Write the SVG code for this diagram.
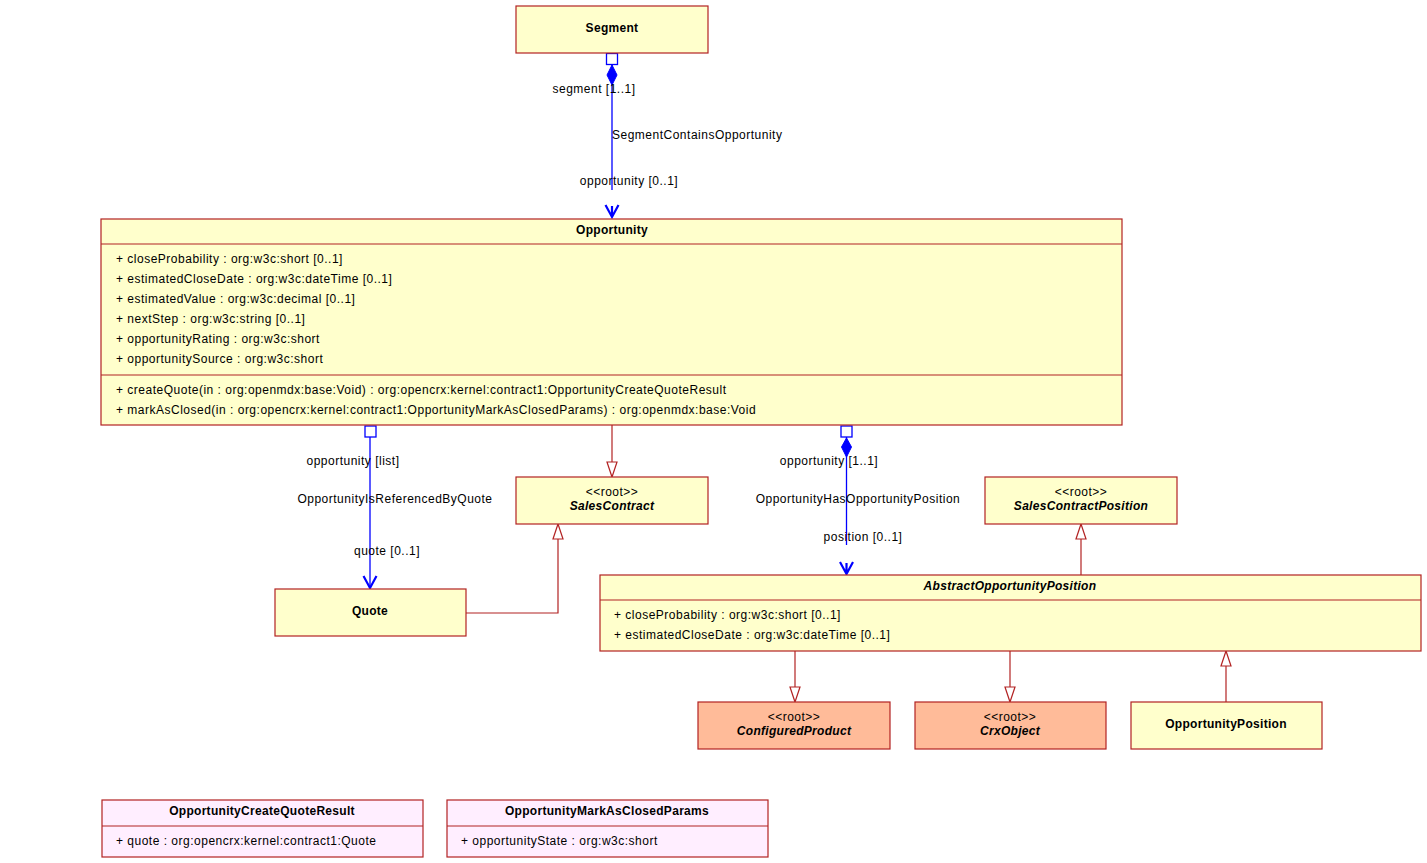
<svg xmlns="http://www.w3.org/2000/svg" width="1427" height="863" viewBox="0 0 1427 863">
<style>
text{font-family:"Liberation Sans",Arial,sans-serif;font-size:12px;fill:#000;letter-spacing:0.5px}
.b{font-weight:bold;text-anchor:middle;letter-spacing:0.3px}
.bi{font-weight:bold;font-style:italic;text-anchor:middle;letter-spacing:0.3px}
.m{text-anchor:middle}
.box{fill:#FFFFCC;stroke:#B22222;stroke-width:1.2}
.sal{fill:#FFBB99;stroke:#B22222;stroke-width:1.2}
.pk{fill:#FFEEFF;stroke:#B22222;stroke-width:1.2}
.sep{stroke:#B22222;stroke-width:1.2}
.as{stroke:#0000FF;stroke-width:1.3;fill:none}
.ah{stroke:#0000FF;stroke-width:2.2;fill:none}
.gen{stroke:#B22222;stroke-width:1.2;fill:none}
.tri{fill:#fff;stroke:#B22222;stroke-width:1.2}
.sq{fill:#fff;stroke:#0000FF;stroke-width:1.3}
.dia{fill:#0000FF;stroke:#0000FF}
</style>
<rect width="1427" height="863" fill="#fff"/>
<g id="connectors">
<!-- Segment -> Opportunity -->
<line class="as" x1="612" y1="64" x2="612" y2="190"/>
<rect class="sq" x="606.5" y="53.5" width="11" height="11"/>
<path class="dia" d="M612 65 L617 75 L612 85 L607 75 Z"/>
<path class="ah" d="M605.5 205 L612 217 L618.5 205 M612 206 L612 217"/>
<text x="594" y="93" class="m">segment [1..1]</text>
<text x="612" y="139">SegmentContainsOpportunity</text>
<text x="629" y="185" class="m">opportunity [0..1]</text>
<!-- Opportunity -> Quote -->
<line class="as" x1="370" y1="437" x2="370" y2="588"/>
<rect class="sq" x="365" y="426" width="11" height="11"/>
<path class="ah" d="M363.5 576 L370 588 L376.5 576"/>
<text x="353" y="465" class="m">opportunity [list]</text>
<text x="395" y="503" class="m">OpportunityIsReferencedByQuote</text>
<text x="387" y="555" class="m">quote [0..1]</text>
<!-- Opportunity -> AbstractOpportunityPosition -->
<line class="as" x1="846.5" y1="437" x2="846.5" y2="545"/>
<rect class="sq" x="841" y="426" width="11" height="11"/>
<path class="dia" d="M846.5 438 L851.5 447 L846.5 457 L841.5 447 Z"/>
<path class="ah" d="M840 562 L846.5 574 L853 562 M846.5 563 L846.5 574"/>
<text x="829" y="465" class="m">opportunity [1..1]</text>
<text x="858" y="503" class="m">OpportunityHasOpportunityPosition</text>
<text x="863" y="541" class="m">position [0..1]</text>
<!-- Generalizations -->
<line class="gen" x1="612" y1="425" x2="612" y2="462"/>
<path class="tri" d="M607 462 L617 462 L612 477 Z"/>
<path class="gen" d="M466 613 L558 613 L558 539"/>
<path class="tri" d="M553 539 L563 539 L558 524 Z"/>
<line class="gen" x1="1081" y1="575" x2="1081" y2="539"/>
<path class="tri" d="M1076 539 L1086 539 L1081 524 Z"/>
<line class="gen" x1="795" y1="651" x2="795" y2="687"/>
<path class="tri" d="M790 687 L800 687 L795 702 Z"/>
<line class="gen" x1="1010" y1="651" x2="1010" y2="687"/>
<path class="tri" d="M1005 687 L1015 687 L1010 702 Z"/>
<line class="gen" x1="1226" y1="702" x2="1226" y2="666"/>
<path class="tri" d="M1221 666 L1231 666 L1226 651 Z"/>
</g>
<g id="Segment">
<rect class="box" x="516" y="6" width="192" height="47"/>
<text x="612" y="32" class="b">Segment</text>
</g>
<g id="Opportunity">
<rect class="box" x="101" y="219" width="1021" height="206"/>
<line class="sep" x1="101" y1="244" x2="1122" y2="244"/>
<line class="sep" x1="101" y1="375" x2="1122" y2="375"/>
<text x="612" y="234" class="b">Opportunity</text>
<text x="116" y="263">+ closeProbability : org:w3c:short [0..1]</text>
<text x="116" y="283">+ estimatedCloseDate : org:w3c:dateTime [0..1]</text>
<text x="116" y="303">+ estimatedValue : org:w3c:decimal [0..1]</text>
<text x="116" y="323">+ nextStep : org:w3c:string [0..1]</text>
<text x="116" y="343">+ opportunityRating : org:w3c:short</text>
<text x="116" y="363">+ opportunitySource : org:w3c:short</text>
<text x="116" y="394">+ createQuote(in : org:openmdx:base:Void) : org:opencrx:kernel:contract1:OpportunityCreateQuoteResult</text>
<text x="116" y="414">+ markAsClosed(in : org:opencrx:kernel:contract1:OpportunityMarkAsClosedParams) : org:openmdx:base:Void</text>
</g>
<g id="SalesContract">
<rect class="box" x="516" y="477" width="192" height="47"/>
<text x="612" y="496" class="m">&lt;&lt;root&gt;&gt;</text>
<text x="612" y="510" class="bi">SalesContract</text>
</g>
<g id="Quote">
<rect class="box" x="275" y="589" width="191" height="47"/>
<text x="370" y="615" class="b">Quote</text>
</g>
<g id="SalesContractPosition">
<rect class="box" x="985" y="477" width="192" height="47"/>
<text x="1081" y="496" class="m">&lt;&lt;root&gt;&gt;</text>
<text x="1081" y="510" class="bi">SalesContractPosition</text>
</g>
<g id="AbstractOpportunityPosition">
<rect class="box" x="600" y="575" width="821" height="76"/>
<line class="sep" x1="600" y1="600" x2="1421" y2="600"/>
<text x="1010" y="590" class="bi">AbstractOpportunityPosition</text>
<text x="614" y="619">+ closeProbability : org:w3c:short [0..1]</text>
<text x="614" y="639">+ estimatedCloseDate : org:w3c:dateTime [0..1]</text>
</g>
<g id="ConfiguredProduct">
<rect class="sal" x="698" y="702" width="192" height="47"/>
<text x="794" y="721" class="m">&lt;&lt;root&gt;&gt;</text>
<text x="794" y="735" class="bi">ConfiguredProduct</text>
</g>
<g id="CrxObject">
<rect class="sal" x="915" y="702" width="191" height="47"/>
<text x="1010" y="721" class="m">&lt;&lt;root&gt;&gt;</text>
<text x="1010" y="735" class="bi">CrxObject</text>
</g>
<g id="OpportunityPosition">
<rect class="box" x="1131" y="702" width="191" height="47"/>
<text x="1226" y="728" class="b">OpportunityPosition</text>
</g>
<g id="OpportunityCreateQuoteResult">
<rect class="pk" x="102" y="800" width="321" height="57"/>
<line class="sep" x1="102" y1="826" x2="423" y2="826"/>
<text x="262" y="815" class="b">OpportunityCreateQuoteResult</text>
<text x="116" y="845">+ quote : org:opencrx:kernel:contract1:Quote</text>
</g>
<g id="OpportunityMarkAsClosedParams">
<rect class="pk" x="447" y="800" width="321" height="57"/>
<line class="sep" x1="447" y1="826" x2="768" y2="826"/>
<text x="607" y="815" class="b">OpportunityMarkAsClosedParams</text>
<text x="461" y="845">+ opportunityState : org:w3c:short</text>
</g>
</svg>
